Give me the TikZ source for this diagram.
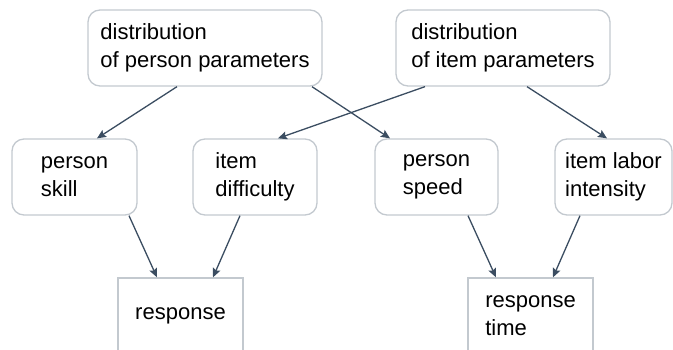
\documentclass[tikz,border=0pt]{standalone}
\usepackage{fontspec}
\setmainfont{Liberation Sans}
\usetikzlibrary{arrows.meta}
\definecolor{boxline}{HTML}{C3C9CF}
\definecolor{arrowcol}{HTML}{3B4D61}
\begin{document}
\begin{tikzpicture}[x=1pt,y=1pt,>={Stealth[length=9pt,width=8pt,inset=1.5pt]},
  box/.style={draw=boxline,line width=1.3pt,rounded corners=12pt,align=left,
    inner sep=0pt,minimum height=76pt,font=\fontsize{22}{28}\selectfont},
  outbox/.style={box,rounded corners=0pt},
  link/.style={->,draw=arrowcol,line width=1.3pt}]
\clip (0,0) rectangle (673,-349);
\node[box,minimum width=234pt] (dp) at (205,-48) {distribution\\of person parameters};
\node[box,minimum width=214pt] (di) at (503,-48) {distribution\\of item parameters};
\node[box,minimum width=125pt] (ps) at (74.5,-177) {person\\skill};
\node[box,minimum width=124pt] (id) at (255,-177) {item\\difficulty};
\node[box,minimum width=123pt] (pv) at (436.5,-177) {person\\speed};
\node[box,minimum width=117pt] (il) at (613.5,-177) {item labor\\intensity};
\node[outbox,minimum width=125pt] (rs) at (180.5,-316) {response};
\node[outbox,minimum width=125pt] (rt) at (530.5,-316) {response\\time};

\draw[link]([xshift=-28pt]dp.south) -- ([xshift=22.5pt]ps.north);
\draw[link]([xshift=107pt]dp.south) -- ([xshift=-46.5pt]pv.north);
\draw[link]([xshift=-78pt]di.south) -- ([xshift=23pt]id.north);
\draw[link]([xshift=24pt]di.south) -- ([xshift=-6.5pt]il.north);
\draw[link]([xshift=54.5pt]ps.south) -- ([xshift=-23.5pt]rs.north);
\draw[link]([xshift=-15pt]id.south) -- ([xshift=32.5pt]rs.north);
\draw[link]([xshift=31.5pt]pv.south) -- ([xshift=-34.5pt]rt.north);
\draw[link]([xshift=-33.5pt]il.south) -- ([xshift=22.5pt]rt.north);
\end{tikzpicture}
\end{document}
